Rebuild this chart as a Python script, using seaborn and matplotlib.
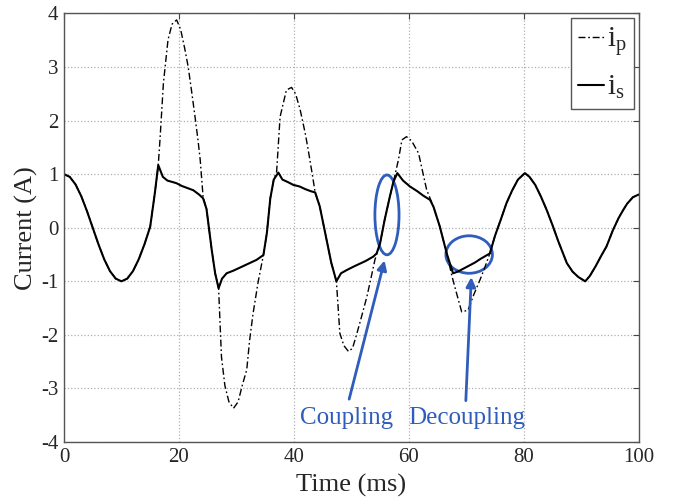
import numpy as np
import pandas as pd
import matplotlib
matplotlib.use("Agg")
import matplotlib.pyplot as plt
from matplotlib.patches import Ellipse
from matplotlib.lines import Line2D
import seaborn as sns

# secondary current i_s (solid)
t_s = [0, 1, 2, 3, 4, 5, 6, 7, 8, 9, 10, 11, 12, 13, 14, 15, 15.8, 16.4, 17.2, 18.0,
       19.0, 19.6, 20.5, 21.5, 22.5, 23.5, 24.2, 24.8, 25.7, 26.3, 26.9, 27.5, 28.3,
       29.5, 30.5, 31.5, 32.5, 33.5, 34.7, 35.3, 35.9, 36.5, 37.3, 38.0, 39.0, 39.9,
       41.0, 42.0, 43.0, 43.7, 44.5, 45.7, 46.5, 47.4, 48.2, 49.2, 50.5, 51.5, 52.5,
       53.8, 54.4, 55.0, 55.8, 56.7, 57.3, 58.0, 59.0, 60.2, 61.5, 62.5, 63.7, 64.3,
       65.4, 66.6, 67.7, 68.5, 70.1, 71.5, 72.5, 74.1, 75.0, 76.0, 77.0, 78.0, 79.0,
       80.2, 81.0, 82.0, 83.0, 84.0, 85.0, 86.0, 87.5, 88.5, 89.5, 90.7, 91.5, 92.5,
       93.5, 94.4, 95.5, 96.5, 97.3, 98.0, 99.0, 100]
i_s = [1.00, 0.95, 0.81, 0.59, 0.31, 0.00, -0.31, -0.59, -0.81, -0.95, -1.00, -0.95,
       -0.81, -0.59, -0.31, 0.02, 0.64, 1.17, 0.95, 0.88, 0.85, 0.83, 0.78, 0.74, 0.70,
       0.62, 0.55, 0.35, -0.41, -0.85, -1.13, -0.95, -0.85, -0.80, -0.75, -0.70, -0.65,
       -0.60, -0.51, -0.10, 0.55, 0.90, 1.03, 0.90, 0.85, 0.80, 0.77, 0.72, 0.68, 0.66,
       0.40, -0.23, -0.65, -1.00, -0.85, -0.79, -0.72, -0.67, -0.62, -0.54, -0.48,
       -0.29, 0.15, 0.58, 0.85, 1.02, 0.88, 0.77, 0.68, 0.60, 0.52, 0.39, 0.02, -0.48,
       -0.85, -0.82, -0.73, -0.65, -0.58, -0.48, -0.15, 0.15, 0.46, 0.70, 0.90, 1.02,
       0.95, 0.80, 0.58, 0.33, 0.05, -0.25, -0.66, -0.82, -0.92, -1.00, -0.90, -0.72,
       -0.52, -0.35, -0.05, 0.18, 0.33, 0.45, 0.57, 0.62]

# primary current i_p (dash-dot)
t_p = [0, 1, 2, 3, 4, 5, 6, 7, 8, 9, 10, 11, 12, 13, 14, 15, 15.8, 16.4, 16.7, 17.3,
       18.1, 18.8, 19.6, 20.3, 21.0, 21.6, 22.2, 22.8, 23.3, 23.7, 24.2, 24.8, 25.7,
       26.3, 26.9, 27.4, 28.0, 28.7, 29.5, 30.3, 31.0, 31.8, 32.3, 32.9, 33.8, 34.7,
       35.3, 35.9, 36.5, 37.0, 37.6, 38.7, 39.6, 40.3, 41.1, 42.0, 42.5, 43.2, 43.7,
       44.5, 45.7, 46.5, 47.4, 48.0, 48.7, 49.5, 50.2, 50.9, 51.8, 52.7, 53.4, 54.1,
       55.0, 55.8, 56.7, 57.3, 58.2, 58.8, 59.6, 60.5, 61.7, 62.4, 63.1, 64.3, 65.4,
       66.6, 67.5, 68.3, 69.2, 70.3, 71.3, 72.4, 73.3, 74.1, 75.0, 76.0, 77.0, 78.0,
       79.0, 80.2, 81.0, 82.0, 83.0, 84.0, 85.0, 86.0, 87.5, 88.5, 89.5, 90.7, 91.5,
       92.5, 93.5, 94.4, 95.5, 96.5, 97.3, 98.0, 99.0, 100]
i_p = [1.00, 0.95, 0.81, 0.59, 0.31, 0.00, -0.31, -0.59, -0.81, -0.95, -1.00, -0.95,
       -0.81, -0.59, -0.31, 0.02, 0.64, 1.17, 1.64, 2.70, 3.51, 3.80, 3.88, 3.70, 3.35,
       3.01, 2.55, 2.07, 1.65, 1.27, 0.58, 0.35, -0.41, -0.85, -1.13, -2.41, -2.95,
       -3.25, -3.37, -3.25, -2.95, -2.65, -2.10, -1.60, -1.00, -0.51, -0.10, 0.55, 0.90,
       1.05, 2.07, 2.57, 2.62, 2.50, 2.20, 1.75, 1.45, 1.00, 0.66, 0.40, -0.23, -0.65,
       -1.00, -1.97, -2.20, -2.31, -2.25, -2.00, -1.65, -1.29, -0.95, -0.60, -0.29, 0.15,
       0.58, 0.85, 1.27, 1.64, 1.70, 1.62, 1.39, 1.05, 0.71, 0.39, 0.02, -0.48, -0.90,
       -1.22, -1.57, -1.54, -1.25, -0.97, -0.72, -0.48, -0.15, 0.15, 0.46, 0.70, 0.90,
       1.02, 0.95, 0.80, 0.58, 0.33, 0.05, -0.25, -0.66, -0.82, -0.92, -1.00, -0.90,
       -0.72, -0.52, -0.35, -0.05, 0.18, 0.33, 0.45, 0.57, 0.62]

df_s = pd.DataFrame({"t": t_s, "i": i_s})
df_p = pd.DataFrame({"t": t_p, "i": i_p})

sns.set_style("whitegrid")
plt.rcParams["font.family"] = ["Liberation Serif", "DejaVu Serif"]
plt.rcParams["mathtext.fontset"] = "custom"
plt.rcParams["mathtext.rm"] = "Liberation Serif"
plt.rcParams["mathtext.it"] = "Liberation Serif"
plt.rcParams["axes.unicode_minus"] = False

blue = "#2f5dbb"

fig = plt.figure(figsize=(6.73, 4.99), dpi=100)
ax = fig.add_axes([0.0951, 0.1142, 0.8539, 0.8588])

sns.lineplot(data=df_p, x="t", y="i", ax=ax, color="black", lw=1.0,
             estimator=None, sort=False)
ax.lines[-1].set_dashes([5, 2, 1.2, 2])
sns.lineplot(data=df_s, x="t", y="i", ax=ax, color="black", lw=1.5,
             estimator=None, sort=False)

ax.set_xlim(0, 100)
ax.set_ylim(-4, 4)
ax.set_xticks(range(0, 101, 20))
ax.set_yticks(range(-4, 5))
ax.set_xlabel("Time (ms)", fontsize=19, labelpad=5)
ax.set_ylabel("Current (A)", fontsize=19, labelpad=2)
ax.tick_params(labelsize=15, direction="in", top=True, right=True,
               length=4, width=0.8, color="#444444", pad=4)
ax.grid(True, color="#b0b0b0", linestyle=":", linewidth=0.9)
for sp in ax.spines.values():
    sp.set_color("#555555")
    sp.set_linewidth(1.0)

# annotations
ax.add_patch(Ellipse((56.2, 0.24), 4.2, 1.49, fill=False, ec=blue, lw=2))
ax.add_patch(Ellipse((70.5, -0.50), 8.1, 0.70, fill=False, ec=blue, lw=2))
ax.annotate("", xy=(55.9, -0.56), xytext=(49.5, -3.25),
            arrowprops=dict(arrowstyle="-|>", color=blue, lw=2, mutation_scale=14))
ax.annotate("", xy=(70.9, -0.87), xytext=(69.9, -3.28),
            arrowprops=dict(arrowstyle="-|>", color=blue, lw=2, mutation_scale=14))
ax.text(49.2, -3.55, "Coupling", color=blue, fontsize=18, ha="center", va="center")
ax.text(70.0, -3.55, "Decoupling", color=blue, fontsize=18, ha="center", va="center")

handles = [Line2D([], [], color="black", lw=1.0, dashes=[5, 2, 1.2, 2]),
           Line2D([], [], color="black", lw=1.5)]
leg = ax.legend(handles, [r"i$_{\mathrm{p}}$", r"i$_{\mathrm{s}}$"], loc="upper right",
                fontsize=21, handlelength=0.9, handletextpad=0.1, labelspacing=0.55,
                borderpad=0.25, fancybox=False, framealpha=1, borderaxespad=0.15)
leg.get_frame().set_edgecolor("#555555")
leg.get_frame().set_linewidth(1.0)

fig.savefig("out.png", dpi=100)
